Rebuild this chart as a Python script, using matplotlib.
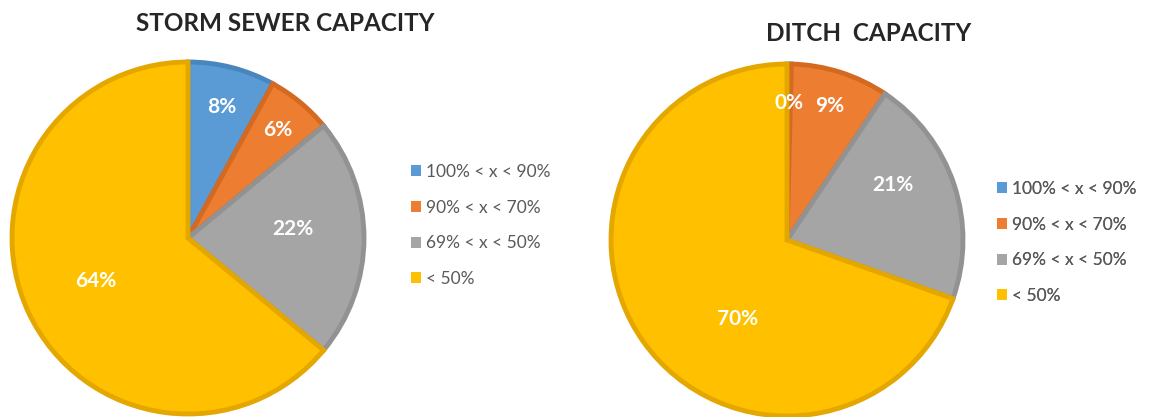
import matplotlib as mpl
import matplotlib.pyplot as plt
from matplotlib.patches import Patch
import numpy as np

mpl.rcParams['font.family'] = ['Lato', 'DejaVu Sans']

categories = ['100% < x < 90%', '90% < x < 70%', '69% < x < 50%', '< 50%']
storm_sewer = [8, 6, 22, 64]
ditch = [0.4, 9, 21, 69.6]

colors = ['#5B9BD5', '#ED7D31', '#A5A5A5', '#FFC000']
edges = ['#4A86BE', '#D46A22', '#929292', '#E3A700']

W, H = 1151, 417
fig = plt.figure(figsize=(W / 100, H / 100), dpi=100)
ax = fig.add_axes([0, 0, 1, 1])


def px(x, y):
    # pixel position (from top-left) -> data coords
    return x, H - y


def draw_pie(vals, cx, cy, r, label_pos):
    wedges, _ = ax.pie(vals, colors=colors, startangle=90, counterclock=False,
                       center=px(cx, cy), radius=r,
                       wedgeprops=dict(linewidth=3.5))
    for w, ec in zip(wedges, edges):
        w.set_edgecolor(ec)
    total = sum(vals)
    # label_pos: (radius fraction, angle shift in degrees) per wedge
    for w, v, (lr, da) in zip(wedges, vals, label_pos):
        a = np.deg2rad((w.theta1 + w.theta2) / 2 + da)
        x0, y0 = w.center
        ax.text(x0 + lr * r * np.cos(a), y0 + lr * r * np.sin(a),
                f'{round(100 * v / total):.0f}%', color='white',
                fontsize=15, fontweight='bold', ha='center', va='center')


def draw_legend(x, y):
    handles = [Patch(facecolor=c, edgecolor='none') for c in colors]
    leg = ax.legend(handles, categories, loc='upper left',
                    bbox_to_anchor=px(x, y), bbox_transform=ax.transData,
                    frameon=False, fontsize=12.5, handlelength=0.6,
                    handleheight=0.6, handletextpad=0.25, labelspacing=1.13,
                    borderpad=0, borderaxespad=0)
    for t in leg.get_texts():
        t.set_color('#595959')
    ax.add_artist(leg)


draw_pie(storm_sewer, 188, 238, 176,
         [(0.77, 0), (0.8, 0), (0.6, 5), (0.58, 0)])
draw_pie(ditch, 787, 240, 176,
         [(0.78, 0), (0.8, 0), (0.68, 9), (0.53, 23)])

draw_legend(411, 164)
draw_legend(997, 181)

ax.text(*px(285, 23), 'STORM SEWER CAPACITY', fontsize=17.5, fontweight='bold',
        color='#262626', ha='center', va='center')
ax.text(*px(869, 33), 'DITCH  CAPACITY', fontsize=17.5, fontweight='bold',
        color='#262626', ha='center', va='center')

ax.set_xlim(0, W)
ax.set_ylim(0, H)
ax.set_aspect('equal')
ax.axis('off')

fig.savefig('out.png', dpi=100)
